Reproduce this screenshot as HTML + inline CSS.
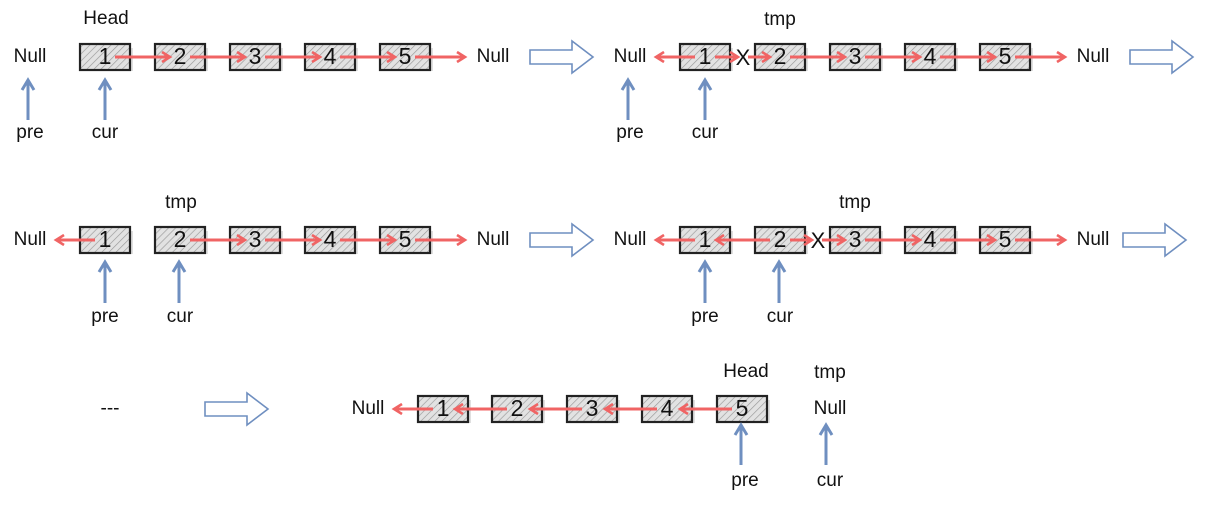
<!DOCTYPE html>
<html><head><meta charset="utf-8"><style>
body{margin:0;background:#fff;width:1208px;height:506px;overflow:hidden}
text{font-family:"Comic Sans MS","Liberation Sans",sans-serif;fill:#111}
</style></head><body>
<svg id="s" width="1208" height="506" xmlns="http://www.w3.org/2000/svg">
<defs>
<pattern id="h" width="5" height="5" patternUnits="userSpaceOnUse" patternTransform="rotate(45)">
<rect width="5" height="5" fill="#e2e2e2"/><line x1="0" y1="0" x2="0" y2="5" stroke="#999" stroke-width="1.3"/></pattern>
<marker id="ra" markerWidth="12" markerHeight="12" refX="9" refY="6" orient="auto" markerUnits="userSpaceOnUse"><path d="M1,1 L9,6 L1,11" fill="none" stroke="#f06464" stroke-width="2.6"/></marker>
</defs>
</svg>
<script>
const s=document.getElementById('s');let h='';
function T(x,y,t,sz){h+=`<text x="${x}" y="${y}" font-size="${sz||19}" text-anchor="middle" dominant-baseline="middle">${t}</text>`}
function box(cx,cy,n){h+=`<rect x="${cx-22}" y="${cy-9}" width="50" height="23" fill="#ccc" opacity=".6"/><rect x="${cx-25}" y="${cy-13}" width="50" height="26" fill="url(#h)" stroke="#222" stroke-width="2.2"/>`;T(cx,cy+1,n,23)}
function ar(x1,x2,y){h+=`<line x1="${x1}" y1="${y}" x2="${x2}" y2="${y}" stroke="#f06464" stroke-width="3" marker-end="url(#ra)"/>`}
function up(x,y1,y2){h+=`<line x1="${x}" y1="${y1}" x2="${x}" y2="${y2}" stroke="#6f8fc0" stroke-width="3"/><path d="M${x-6},${y2+10} L${x},${y2} L${x+6},${y2+10}" fill="none" stroke="#6f8fc0" stroke-width="3"/>`}
function big(x,y){h+=`<path d="M${x},${y-7} L${x+42},${y-7} L${x+42},${y-16} L${x+63},${y} L${x+42},${y+16} L${x+42},${y+7} L${x},${y+7} Z" fill="none" stroke="#6f8fc0" stroke-width="1.6"/>`}
function X(x,y){T(x,y+2,'X',22)}
let y=57;T(30,y,'Null');T(493,y,'Null');T(106,19,'Head');
[105,180,255,330,405].forEach((c,i)=>box(c,y,i+1));
[105,180,255,330,405].forEach((c,i)=>ar(c+10,i<4?c+65:c+60,y));
up(28,120,80);up(105,120,80);T(30,133,'pre');T(105,133,'cur');big(530,y);
T(630,y,'Null');T(1093,y,'Null');T(780,20,'tmp');
let R=[705,780,855,930,1005];R.forEach((c,i)=>box(c,y,i+1));
ar(695,656,y);ar(715,738,y);ar(748,770,y);
[780,855,930].forEach(c=>ar(c+10,c+65,y));ar(1015,1065,y);X(743,y);
up(628,120,80);up(705,120,80);T(630,133,'pre');T(705,133,'cur');big(1130,y);
y=240;T(30,y,'Null');T(493,y,'Null');T(181,203,'tmp');
[105,180,255,330,405].forEach((c,i)=>box(c,y,i+1));
ar(95,56,y);[180,255,330].forEach(c=>ar(c+10,c+65,y));ar(415,465,y);
up(105,303,262);up(179,303,262);T(105,317,'pre');T(180,317,'cur');big(530,y);
T(630,y,'Null');T(1093,y,'Null');T(855,203,'tmp');
R.forEach((c,i)=>box(c,y,i+1));
ar(695,656,y);ar(770,716,y);ar(790,812,y);ar(822,845,y);X(818,y);
[855,930].forEach(c=>ar(c+10,c+65,y));ar(1015,1065,y);
up(705,303,262);up(779,303,262);T(705,317,'pre');T(780,317,'cur');big(1123,y);
y=409;T(110,y,'---');big(205,y);T(368,y,'Null');T(746,372,'Head');T(830,373,'tmp');T(830,409,'Null');
[443,517,592,667,742].forEach((c,i)=>box(c,y,i+1));
ar(433,394,y);[517,592,667,742].forEach(c=>ar(c-10,c-62,y));
up(741,465,425);up(826,465,425);T(745,481,'pre');T(830,481,'cur');
s.insertAdjacentHTML('beforeend',h);
</script>
</body></html>
